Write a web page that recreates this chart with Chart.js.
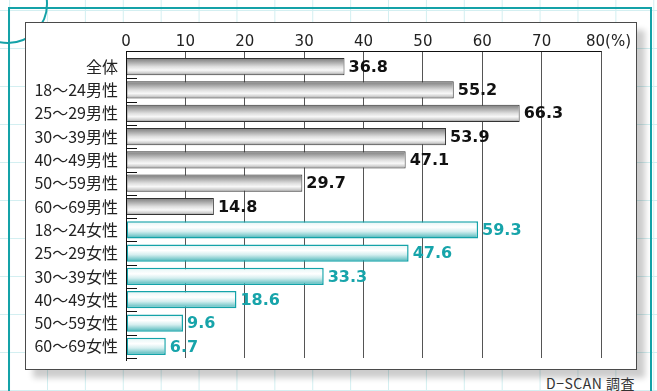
<!DOCTYPE html>
<html>
<head>
<meta charset="utf-8">
<script src="https://cdn.jsdelivr.net/npm/chart.js@4.4.1/dist/chart.umd.min.js"></script>
<style>
  html, body { margin: 0; padding: 0; }
  body {
    width: 657px; height: 391px; position: relative; overflow: hidden;
    background-color: #fff;
    background-image:
      linear-gradient(to right, #d3eff1 1px, transparent 1px),
      linear-gradient(to bottom, #d3eff1 1px, transparent 1px);
    background-size: 37.9px 38px;
    background-position: 47px 10px;
  }
  #ring {
    position: absolute; left: -32px; top: -36px; width: 80px; height: 80px;
    box-sizing: border-box; border: 2.5px solid #14a2a8; border-radius: 50%;
  }
  #frame {
    position: absolute; left: 8px; top: 7px; width: 644px; height: 400px;
    box-sizing: border-box; border: 2.5px solid #14a2a8; border-bottom: none;
  }
  #box {
    position: absolute; left: 25px; top: 22px; width: 612px; height: 348px;
    box-sizing: border-box; background: #fff; border: 1px solid #4a4a4a;
    box-shadow: 8px 8px 6px rgba(0, 0, 0, 0.2);
  }
  #note {
    position: absolute; right: 22px; top: 373px; letter-spacing: 0.5px;
    font: 14px "Noto Sans CJK JP", sans-serif; color: #333;
  }
  canvas { position: absolute; left: 0; top: 0; }
</style>
</head>
<body>
<div id="ring"></div>
<div id="frame"></div>
<div id="box"></div>
<div id="note">D−SCAN 調査</div>
<canvas id="chart" width="657" height="391"></canvas>
<script>
// data
const categories = [
  '全体',
  '18〜24男性', '25〜29男性', '30〜39男性', '40〜49男性', '50〜59男性', '60〜69男性',
  '18〜24女性', '25〜29女性', '30〜39女性', '40〜49女性', '50〜59女性', '60〜69女性'
];
const values = [36.8, 55.2, 66.3, 53.9, 47.1, 29.7, 14.8, 59.3, 47.6, 33.3, 18.6, 9.6, 6.7];
const xTicks = [0, 10, 20, 30, 40, 50, 60, 70, 80];
const unitLabel = '(%)';

const TEAL = '#14a3a9';
const TEAL_TEXT = '#17a4aa';
const BAR_PCT = 0.74;

const isFemale = i => categories[i].endsWith('女性');

function barFill(ctx) {
  const chart = ctx.chart;
  const y = chart.scales.y;
  if (!chart.chartArea || !y) return '#ccc';
  const c = y.getPixelForValue(ctx.dataIndex);
  const h = (y.height / categories.length) * BAR_PCT / 2;
  const g = chart.ctx.createLinearGradient(0, c - h, 0, c + h);
  if (isFemale(ctx.dataIndex)) {
    g.addColorStop(0, '#e2f4f4');
    g.addColorStop(0.35, '#ffffff');
    g.addColorStop(0.6, '#d4eeef');
    g.addColorStop(0.85, '#7ccacc');
    g.addColorStop(1, '#3aaeb1');
  } else {
    g.addColorStop(0, '#7a7a7a');
    g.addColorStop(0.18, '#9c9c9c');
    g.addColorStop(0.5, '#dedede');
    g.addColorStop(0.7, '#f8f8f8');
    g.addColorStop(0.87, '#cfcfcf');
    g.addColorStop(1, '#8a8a8a');
  }
  return g;
}

// axis frame, short band ticks and value labels
const decor = {
  id: 'decor',
  afterDatasetsDraw(chart) {
    const { ctx, chartArea: a, scales: { y } } = chart;
    const band = y.height / categories.length;
    ctx.save();
    ctx.strokeStyle = '#111';
    ctx.lineWidth = 1;
    ctx.beginPath();
    ctx.moveTo(a.left, a.top - 4 + 0.5);
    ctx.lineTo(a.right + 0.5, a.top - 4 + 0.5);
    ctx.moveTo(Math.round(a.left) + 0.5, a.top - 4);
    ctx.lineTo(Math.round(a.left) + 0.5, a.bottom + 3);
    categories.forEach((c, i) => {
      const yy = Math.round(y.getPixelForValue(i) + band / 2) + 0.5;
      ctx.moveTo(a.left, yy);
      ctx.lineTo(a.left + 11, yy);
    });
    ctx.stroke();

    const meta = chart.getDatasetMeta(0);
    ctx.font = 'bold 16px "DejaVu Sans"';
    ctx.textBaseline = 'middle';
    ctx.textAlign = 'left';
    meta.data.forEach((bar, i) => {
      ctx.fillStyle = isFemale(i) ? TEAL_TEXT : '#111';
      ctx.fillText(values[i].toFixed(1), bar.x + 4, bar.y + 1);
    });
    ctx.restore();
  }
};

new Chart(document.getElementById('chart'), {
  type: 'bar',
  data: {
    labels: categories,
    datasets: [{
      data: values,
      backgroundColor: barFill,
      borderColor: ctx => isFemale(ctx.dataIndex) ? TEAL : '#333',
      borderWidth: ctx => isFemale(ctx.dataIndex) ? 1.5 : 1,
      borderSkipped: false,
      barPercentage: BAR_PCT,
      categoryPercentage: 1
    }]
  },
  options: {
    indexAxis: 'y',
    responsive: false,
    animation: false,
    devicePixelRatio: 1,
    layout: { padding: { left: 0, top: 0, right: 56, bottom: 33 } },
    plugins: { legend: { display: false }, tooltip: { enabled: false } },
    scales: {
      x: {
        position: 'top',
        min: 0,
        max: 80,
        afterBuildTicks: s => { s.ticks = xTicks.map(v => ({ value: v })); },
        afterFit: s => { s.height = 55; },
        border: { display: false },
        grid: {
          color: ctx => ctx.tick && ctx.tick.value === 0 ? '#000' : '#555',
          lineWidth: 1,
          tickLength: 4
        },
        ticks: {
          autoSkip: false,
          maxRotation: 0,
          padding: 0,
          color: '#222',
          font: { family: 'DejaVu Sans', size: 15 },
          callback: v => v === 80 ? '\u2002\u2002' + v + unitLabel : String(v)
        }
      },
      y: {
        afterFit: s => { s.width = 126; },
        border: { display: false },
        grid: { display: false, drawTicks: false },
        ticks: {
          padding: 8,
          color: '#222',
          font: { family: 'Noto Sans CJK JP', size: 16 }
        }
      }
    }
  },
  plugins: [decor]
});
</script>
</body>
</html>
